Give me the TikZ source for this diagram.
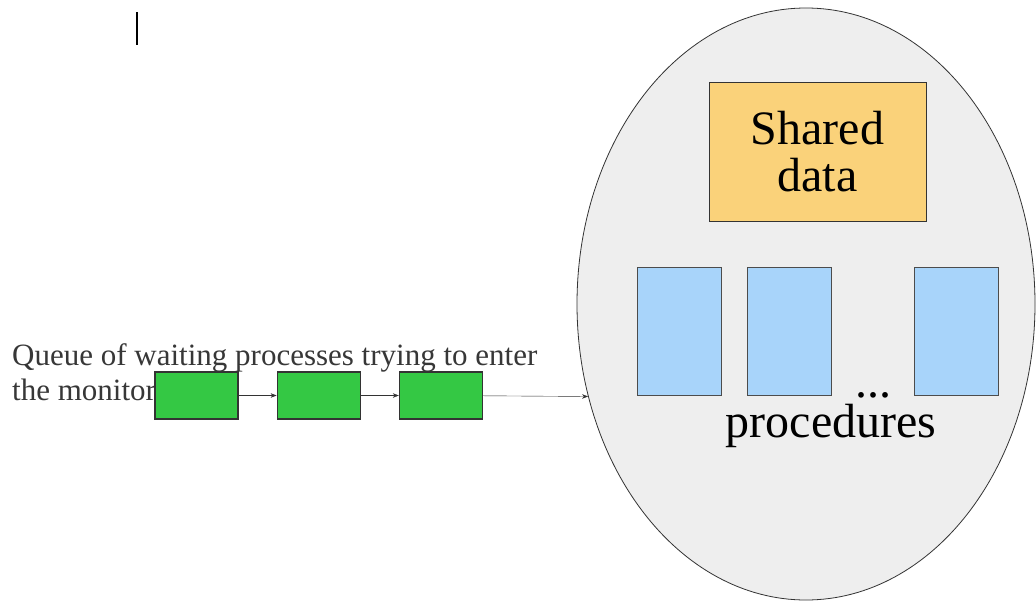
\documentclass[tikz,border=0pt]{standalone}
\usepackage{fontspec}
\setmainfont{Liberation Serif}
\usepackage{xcolor}
\usepackage{tikz}
\usetikzlibrary{arrows.meta,positioning,shapes.geometric}
\definecolor{mygreen}{RGB}{52,200,68}
\definecolor{myorange}{RGB}{250,210,122}
\definecolor{myblue}{RGB}{168,212,250}
\definecolor{mygray}{RGB}{238,238,238}
\definecolor{mytext}{RGB}{55,55,55}

\begin{document}
\begin{tikzpicture}[x=1pt, y=-1pt]
    \tikzstyle{q}=[draw=black!80, line width=1.2pt, fill=mygreen, minimum width=83pt, minimum height=47pt, inner sep=0pt]
    \tikzstyle{p}=[draw=black!70, line width=1pt, fill=myblue, minimum width=84pt, minimum height=128pt, inner sep=0pt]
    \tikzstyle{big}=[font=\fontsize{48}{47}\selectfont, align=center, inner sep=0pt]
    \useasboundingbox (0,0) rectangle (1036,605);
    \draw[line width=2pt] (137,12) -- (137,45);
    % the monitor
    \node[ellipse, draw=black!80, line width=0.8pt, fill=mygray, minimum width=458pt, minimum height=592pt, inner sep=0pt] (monitor) at (806,304) {};
    \node[big, draw=black!80, line width=1pt, fill=myorange, minimum width=217pt, minimum height=139pt] (data) at (817.5,152) {Shared\\data};
    \node[p] (p1) at (679,331) {};
    \node[p, right=25pt of p1] (p2) {};
    \node[p] (p3) at (956.5,331) {};
    \node[big, anchor=base, text height=6pt, text depth=0pt] (dots) at (873,397) {...};
    \node[big, anchor=base] (proc) at (831,437) {procedures};
    % waiting queue
    \node[anchor=north west, align=left, inner sep=0pt, text=mytext, font=\fontsize{31}{35}\selectfont] (label) at (12,343.5) {Queue of waiting processes trying to enter\\the monitor};
    \node[q] (q1) at (196.5,395.5) {};
    \node[q, right=38pt of q1] (q2) {};
    \node[q, right=38pt of q2] (q3) {};
    \draw[-{Stealth[length=6pt, width=4.5pt]}, black!80] (q1) -- (q2);
    \draw[-{Stealth[length=6pt, width=4.5pt]}, black!80] (q2) -- (q3);
    \draw[-{Stealth[length=6pt, width=4.5pt]}, black!80] (q3) -- (monitor.203);
\end{tikzpicture}
\end{document}
